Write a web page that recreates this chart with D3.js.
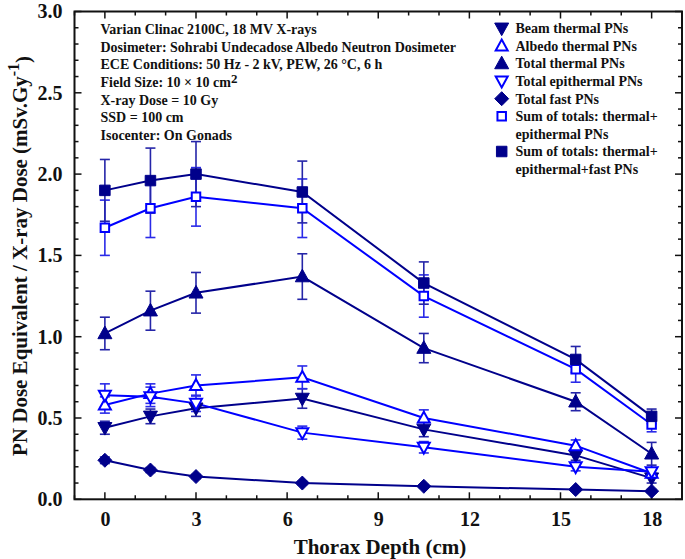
<!DOCTYPE html>
<html><head><meta charset="utf-8">
<script src="https://cdn.jsdelivr.net/npm/d3@7"></script>
<style>
html,body{margin:0;padding:0;background:#fff;}
svg text{font-family:"Liberation Serif","Times New Roman",serif;font-weight:bold;fill:#111;}
</style></head>
<body><svg id="c" width="685" height="559"></svg>
<script>
const depths = [0, 1.5, 3, 6.5, 10.5, 15.5, 18];
const beamThermal = [0.44, 0.51, 0.56, 0.62, 0.43, 0.27, 0.13];
const beamThermalErr = [0.04, 0.045, 0.05, 0.06, 0.045, 0.03, 0.03];
const albedoThermal = [0.58, 0.65, 0.70, 0.75, 0.50, 0.33, 0.16];
const albedoThermalErr = [0.05, 0.06, 0.065, 0.07, 0.05, 0.035, 0.03];
const totalThermal = [1.02, 1.16, 1.27, 1.37, 0.93, 0.60, 0.28];
const totalThermalErr = [0.10, 0.12, 0.125, 0.14, 0.09, 0.055, 0.07];
const totalEpithermal = [0.64, 0.63, 0.59, 0.41, 0.32, 0.20, 0.17];
const totalEpithermalErr = [0.07, 0.06, 0.05, 0.04, 0.035, 0.025, 0.02];
const totalFast = [0.24, 0.18, 0.14, 0.10, 0.08, 0.06, 0.05];
const totalFastErr = [0.02, 0.015, 0.012, 0.01, 0.01, 0.01, 0.01];
const sumThermEpi = [1.67, 1.79, 1.86, 1.79, 1.25, 0.80, 0.46];
const sumThermEpiErr = [0.17, 0.18, 0.18, 0.18, 0.13, 0.08, 0.045];
const sumAll = [1.90, 1.96, 2.00, 1.89, 1.33, 0.86, 0.51];
const sumAllErr = [0.19, 0.20, 0.20, 0.19, 0.13, 0.08, 0.045];

const xTicks = [0, 3, 6, 9, 12, 15, 18];
const yTicks = [0, 0.5, 1.0, 1.5, 2.0, 2.5, 3.0];
const annotations = ["Varian Clinac 2100C, 18 MV X-rays",
  "Dosimeter: Sohrabi Undecadose Albedo Neutron Dosimeter",
  "ECE Conditions: 50 Hz - 2 kV, PEW, 26 \u00B0C, 6 h",
  "Field Size: 10 \u00D7 10 cm\u00B2",
  "X-ray Dose = 10 Gy",
  "SSD = 100 cm",
  "Isocenter: On Gonads"];

const NAVY = "#00008B", BLUE = "#0000FF";
const series = [
  {name:["Beam thermal PNs"], v:beamThermal, e:beamThermalErr, color:NAVY, shape:"down", open:false},
  {name:["Albedo thermal PNs"], v:albedoThermal, e:albedoThermalErr, color:BLUE, shape:"up", open:true},
  {name:["Total thermal PNs"], v:totalThermal, e:totalThermalErr, color:NAVY, shape:"up", open:false},
  {name:["Total epithermal PNs"], v:totalEpithermal, e:totalEpithermalErr, color:BLUE, shape:"down", open:true},
  {name:["Total fast PNs"], v:totalFast, e:totalFastErr, color:NAVY, shape:"diamond", open:false},
  {name:["Sum of totals: thermal+","epithermal PNs"], v:sumThermEpi, e:sumThermEpiErr, color:BLUE, shape:"square", open:true},
  {name:["Sum of totals: thermal+","epithermal+fast PNs"], v:sumAll, e:sumAllErr, color:NAVY, shape:"square", open:false}
];

const L = 74.5, R = 682, T = 11.5, B = 499.3;
const svg = d3.select("#c");
const x = d3.scaleLinear().domain([-1, 19]).range([L, R]);
const y = d3.scaleLinear().domain([0, 3]).range([B, T]);

function shapePath(shape, s){
  const h = s/2;
  if(shape==="up"){ return `M0,${-h*1.05}L${h},${h*0.75}L${-h},${h*0.75}Z`; }
  if(shape==="down"){ return `M0,${h*1.05}L${h},${-h*0.75}L${-h},${-h*0.75}Z`; }
  if(shape==="diamond"){ return `M0,${-h}L${h},0L0,${h}L${-h},0Z`; }
  return `M${-h},${-h}L${h},${-h}L${h},${h}L${-h},${h}Z`;
}
function drawMarker(g, sr, cx, cy){
  const s = sr.shape==="square" ? (sr.open?8.5:10.5) : (sr.shape==="diamond"?14:(sr.open?12:14));
  g.append("path").attr("d", shapePath(sr.shape, s))
    .attr("transform", `translate(${cx},${cy})`)
    .attr("fill", sr.open ? "#fff" : sr.color)
    .attr("stroke", sr.color).attr("stroke-width", sr.open?2:1)
    .attr("stroke-linejoin","miter");
}

// inward ticks on all four sides
const axG = svg.append("g");
const xMinor = d3.range(-1, 20, 1);
const yMinor = d3.range(0, 3.001, 0.1);
xMinor.forEach(t=>{
  const len = xTicks.includes(t)?7:4;
  axG.append("line").attr("x1",x(t)).attr("x2",x(t)).attr("y1",B).attr("y2",B-len).attr("stroke","#111").attr("stroke-width",1.5);
  axG.append("line").attr("x1",x(t)).attr("x2",x(t)).attr("y1",T).attr("y2",T+len).attr("stroke","#111").attr("stroke-width",1.5);
});
yMinor.forEach(t=>{
  const major = Math.abs(t*2 - Math.round(t*2))<1e-6;
  const len = major?7:4;
  axG.append("line").attr("y1",y(t)).attr("y2",y(t)).attr("x1",L).attr("x2",L+len).attr("stroke","#111").attr("stroke-width",1.5);
  axG.append("line").attr("y1",y(t)).attr("y2",y(t)).attr("x1",R).attr("x2",R-len).attr("stroke","#111").attr("stroke-width",1.5);
});

// tick labels via d3 axes
const xAxis = svg.append("g").attr("transform",`translate(0,${B})`)
  .call(d3.axisBottom(x).tickValues(xTicks).tickFormat(d3.format("d")).tickSize(0).tickPadding(13));
xAxis.select(".domain").remove();
xAxis.selectAll("text").attr("font-size",20).attr("font-family","Liberation Serif").attr("font-weight","bold").attr("fill","#111");
const yAxis = svg.append("g").attr("transform",`translate(${L},0)`)
  .call(d3.axisLeft(y).tickValues(yTicks).tickFormat(d3.format(".1f")).tickSize(0).tickPadding(12));
yAxis.select(".domain").remove();
yAxis.selectAll("text").attr("font-size",20).attr("font-family","Liberation Serif").attr("font-weight","bold").attr("fill","#111");

// lines
const lineGen = d3.line().x(d=>x(d[0])).y(d=>y(d[1]));
series.forEach(sr=>{
  svg.append("path").datum(depths.map((d,i)=>[d, sr.v[i]]))
    .attr("d", lineGen).attr("fill","none").attr("stroke", sr.color).attr("stroke-width",2);
});
// error bars
series.forEach(sr=>{
  const g = svg.append("g").attr("stroke", sr.color===NAVY ? "#2525a8" : "#2a2ae8").attr("stroke-width",1.6);
  depths.forEach((d,i)=>{
    const cx = x(d), y1 = y(sr.v[i]+sr.e[i]), y2 = y(sr.v[i]-sr.e[i]);
    g.append("line").attr("x1",cx).attr("x2",cx).attr("y1",y1).attr("y2",y2);
    g.append("line").attr("x1",cx-5).attr("x2",cx+5).attr("y1",y1).attr("y2",y1);
    g.append("line").attr("x1",cx-5).attr("x2",cx+5).attr("y1",y2).attr("y2",y2);
  });
});
// markers
series.forEach(sr=>{
  const g = svg.append("g");
  depths.forEach((d,i)=> drawMarker(g, sr, x(d), y(sr.v[i])));
});

// frame
svg.append("rect").attr("x",L).attr("y",T).attr("width",R-L).attr("height",B-T)
  .attr("fill","none").attr("stroke","#111").attr("stroke-width",2);

// annotations
annotations.forEach((t,i)=>{
  const tx = svg.append("text").attr("x",100.5).attr("y",29.3+i*17.6).attr("dy","0.35em").attr("font-size",14);
  if(t.endsWith("cm\u00B2")){
    tx.text(t.slice(0,-1));
    tx.append("tspan").attr("font-size",13).attr("dy","-0.3em").text("2");
  } else tx.text(t);
});

// legend
let row = 0;
series.forEach(sr=>{
  const cy = 28.3 + row*17.6;
  drawMarker(svg.append("g"), sr, 501.7, cy);
  sr.name.forEach((n,k)=>{
    svg.append("text").attr("x",515.5).attr("y",cy + k*17.6).attr("dy","0.35em").attr("font-size",14).text(n);
  });
  row += sr.name.length;
});

// axis titles
svg.append("text").attr("x",380).attr("y",547).attr("dy","0.35em").attr("text-anchor","middle")
  .attr("font-size",21).text("Thorax Depth (cm)");
const yt = svg.append("text").attr("transform","translate(20,256) rotate(-90)").attr("text-anchor","middle")
  .attr("dy","0.35em").attr("font-size",21);
yt.append("tspan").text("PN Dose Equivalent / X-ray Dose (mSv.Gy");
yt.append("tspan").attr("dy","-0.5em").attr("font-size",16).text("-1");
yt.append("tspan").attr("dy","0.5em").text(")");
</script></body></html>
